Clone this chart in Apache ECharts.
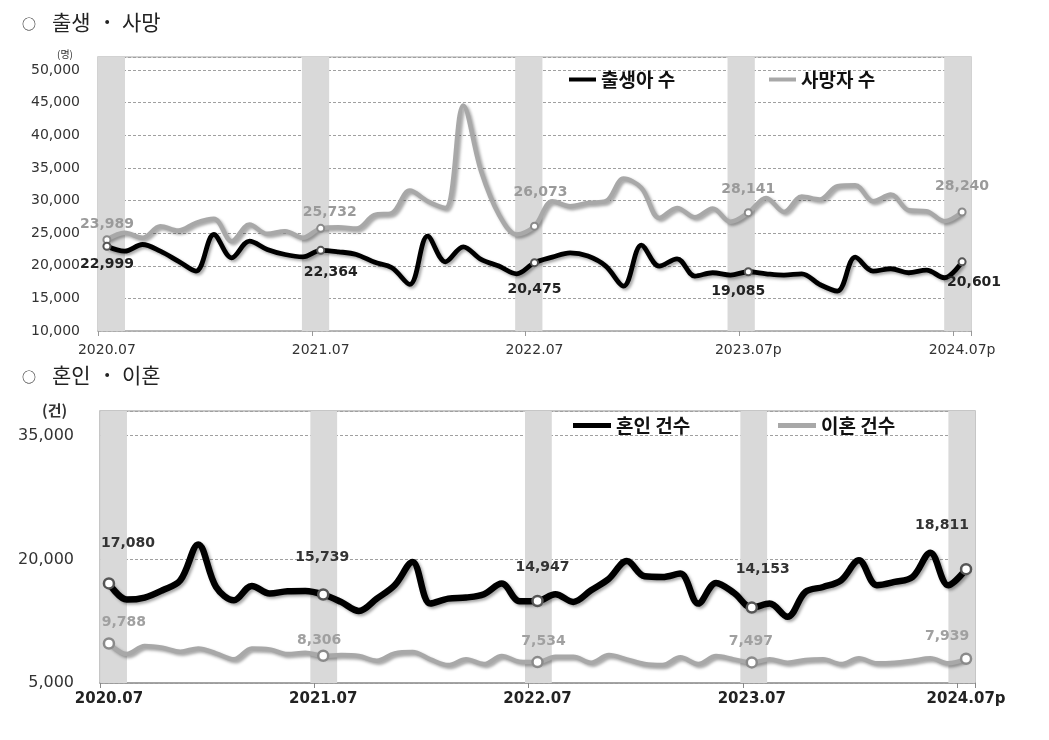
<!DOCTYPE html>
<html>
<head>
<meta charset="utf-8">
<script src="https://cdn.jsdelivr.net/npm/echarts@6/dist/echarts.min.js"></script>
<style>
html,body{margin:0;padding:0;background:#fff;}
#c{width:1049px;height:740px;}
</style>
</head>
<body>
<div id="c"></div>
<script>
// ---------- DATA ----------
const startYear = 2020, startMonth = 7, monthCount = 49;
const birthTickLabels = ['2020.07', '2021.07', '2022.07', '2023.07p', '2024.07p'];
const marriageTickLabels = ['2020.07', '2021.07', '2022.07', '2023.07', '2024.07p'];

const births = [22999, 22240, 23260, 22240, 20710, 19180, 24790, 21220, 23770, 22500, 21730, 21370,
  22364, 22140, 21730, 20560, 19690, 17140, 24540, 20610, 22900, 20970, 19950, 18770,
  20475, 21320, 21990, 21480, 19950, 16890, 23160, 19950, 21070, 18420, 18930, 18570,
  19085, 18770, 18570, 18770, 17140, 16120, 21320, 19180, 19540, 18930, 19340, 18160, 20601];
const deaths = [23989, 25050, 24300, 26070, 25400, 26580, 27190, 23770, 26320, 24900, 25300, 24300,
  25732, 25900, 25700, 27750, 28100, 31520, 29900, 28870, 44580, 34480, 27850, 24790,
  26073, 29890, 29130, 29640, 29890, 33360, 31930, 27340, 28870, 27440, 28770, 26730,
  28141, 30400, 28260, 30610, 30150, 32190, 32340, 29890, 30910, 28510, 28360, 26830, 28240];
const marriages = [17080, 15120, 15370, 16250, 17460, 21810, 16650, 15040, 16780, 15850, 16130, 16170,
  15739, 14840, 13750, 15240, 16860, 19680, 14640, 15240, 15370, 15770, 17060, 14920,
  14947, 15770, 14840, 16250, 17660, 19800, 17940, 17860, 18270, 14640, 17140, 15930,
  14153, 14640, 13030, 16050, 16650, 17460, 19880, 16860, 17260, 17860, 20810, 16860, 18811];
const divorces = [9788, 8510, 9480, 9280, 8800, 9200, 8600, 7870, 9200, 9080, 8510, 8680,
  8306, 8390, 8270, 7710, 8600, 8760, 7870, 7180, 7870, 7300, 8270, 7590,
  7534, 8190, 8190, 7470, 8390, 7870, 7300, 7180, 8110, 7300, 8270, 7870,
  7497, 7870, 7470, 7790, 7870, 7300, 7990, 7390, 7470, 7710, 7990, 7390, 7939];

// ---------- CATEGORIES ----------
const months = [];
for (let k = 0; k < monthCount; k++) {
  const m0 = startMonth - 1 + k;
  const y = startYear + Math.floor(m0 / 12);
  const m = (m0 % 12) + 1;
  months.push(y + '.' + (m < 10 ? '0' + m : m));
}
const julyIdx = months.map((c, i) => c.endsWith('.07') ? i : -1).filter(i => i >= 0);

// ---------- STYLE HELPERS ----------
const fmt = v => Number(v).toLocaleString('en-US');
const CJK = '"Noto Sans CJK KR", "Noto Sans", sans-serif';
const NUM = '"DejaVu Sans", Verdana, sans-serif';

function buildData(values, opts) {
  return values.map((v, i) => {
    const k = julyIdx.indexOf(i);
    if (k < 0) return v;
    return {
      value: v,
      symbol: 'circle',
      symbolSize: opts.symbolSize,
      itemStyle: { color: '#fff', borderColor: opts.markerColor, borderWidth: opts.markerWidth },
      label: {
        show: true,
        position: opts.pos,
        distance: 0,
        offset: opts.offsets[k],
        formatter: p => fmt(p.value),
        color: opts.labelColor,
        fontFamily: NUM,
        fontWeight: 'bold',
        fontSize: 14
      }
    };
  });
}

// shaded July bands: shift (in category widths) per band, width multiplier
function bandRender(shifts, widthMul) {
  return function (params, api) {
    const cx = api.coord([api.value(0), api.value(1)])[0];
    const bw = api.size([1, 0])[0];
    const cs = params.coordSys;
    const shift = shifts[params.dataIndex] || 0;
    const rect = echarts.graphic.clipRectByRect({
      x: cx + shift * bw - widthMul * bw / 2,
      y: cs.y,
      width: widthMul * bw,
      height: cs.height
    }, { x: cs.x, y: cs.y, width: cs.width, height: cs.height });
    if (!rect) return null;
    return { type: 'rect', shape: rect, style: { fill: '#d9d9d9' } };
  };
}
const topBandShift = [0.25, -0.29, -0.32, -0.4, -0.24];
const bottomBandShift = [0.26, 0.03, 0.05, 0.11, -0.24];

const shadow = { shadowColor: 'rgba(0,0,0,0.35)', shadowBlur: 3, shadowOffsetX: 2, shadowOffsetY: 2 };

const chart = echarts.init(document.getElementById('c'));
const option = {
  backgroundColor: '#fff',
  animation: false,
  grid: [
    { left: 98, right: 78, top: 57, height: 274, show: true, borderColor: '#c4c4c4', borderWidth: 1.5, backgroundColor: 'transparent' },
    { left: 100, right: 74, top: 411, height: 272, show: true, borderColor: '#b4b4b4', borderWidth: 1.5, backgroundColor: 'transparent' }
  ],
  xAxis: [
    {
      gridIndex: 0, type: 'category', data: months, boundaryGap: true,
      axisLine: { lineStyle: { color: '#b0b0b0', width: 1.5 } },
      axisTick: { show: true, interval: 11, length: 5, lineStyle: { color: '#999' } },
      axisLabel: {
        interval: 11, margin: 12, color: '#333', fontFamily: NUM, fontSize: 14,
        formatter: (v, i) => birthTickLabels[Math.round(i / 12)] || ''
      }
    },
    {
      gridIndex: 1, type: 'category', data: months, boundaryGap: true,
      axisLine: { lineStyle: { color: '#999', width: 1.5 } },
      axisTick: { show: true, interval: 11, length: 5, lineStyle: { color: '#888' } },
      axisLabel: {
        interval: 11, margin: 9, color: '#222', fontFamily: NUM, fontSize: 15, fontWeight: 'bold',
        formatter: (v, i) => marriageTickLabels[Math.round(i / 12)] || ''
      }
    }
  ],
  yAxis: [
    {
      gridIndex: 0, type: 'value', min: 10000, max: 52000, interval: 5000,
      axisLine: { show: false }, axisTick: { show: false },
      axisLabel: { showMaxLabel: false, margin: 18, color: '#333', fontFamily: NUM, fontSize: 14, formatter: fmt },
      splitLine: { lineStyle: { color: '#a0a0a0', type: [3, 2], width: 1 } }
    },
    {
      gridIndex: 1, type: 'value', min: 5000, max: 38000, interval: 15000,
      axisLine: { show: false }, axisTick: { show: false },
      axisLabel: { showMaxLabel: false, margin: 26, color: '#333', fontFamily: NUM, fontSize: 16, formatter: fmt },
      splitLine: { lineStyle: { color: '#a0a0a0', type: [3, 2], width: 1 } }
    }
  ],
  legend: [
    { left: 564, top: 65, data: ['출생아 수'], icon: 'rect', itemWidth: 27, itemHeight: 4,
      textStyle: { fontFamily: CJK, fontWeight: 'bold', fontSize: 19, color: '#111' } },
    { left: 764, top: 65, data: ['사망자 수'], icon: 'rect', itemWidth: 27, itemHeight: 4,
      textStyle: { fontFamily: CJK, fontWeight: 'bold', fontSize: 19, color: '#111' } },
    { left: 568, top: 411, data: ['혼인 건수'], icon: 'rect', itemWidth: 38, itemHeight: 5,
      textStyle: { fontFamily: CJK, fontWeight: 'bold', fontSize: 19, color: '#111' } },
    { left: 773, top: 411, data: ['이혼 건수'], icon: 'rect', itemWidth: 38, itemHeight: 5,
      textStyle: { fontFamily: CJK, fontWeight: 'bold', fontSize: 19, color: '#111' } }
  ],
  series: [
    { type: 'custom', name: 'band1', xAxisIndex: 0, yAxisIndex: 0, silent: true, z: 1,
      renderItem: bandRender(topBandShift, 1.53), data: julyIdx.map(i => [i, 10000]) },
    { type: 'custom', name: 'band2', xAxisIndex: 1, yAxisIndex: 1, silent: true, z: 1,
      renderItem: bandRender(bottomBandShift, 1.5), data: julyIdx.map(i => [i, 5000]) },
    {
      name: '사망자 수', type: 'line', xAxisIndex: 0, yAxisIndex: 0, smooth: 0.35, z: 3,
      symbol: 'none', showSymbol: true, color: '#a8a8a8',
      lineStyle: Object.assign({ width: 4.5, color: '#a8a8a8' }, shadow),
      data: buildData(deaths, { symbolSize: 7, markerColor: '#8a8a8a', markerWidth: 2, pos: 'top',
        labelColor: '#9a9a9a', offsets: [[0, -4], [9, -5], [6, -22], [0, -12], [0, -14]] })
    },
    {
      name: '출생아 수', type: 'line', xAxisIndex: 0, yAxisIndex: 0, smooth: 0.35, z: 4,
      symbol: 'none', showSymbol: true, color: '#000',
      lineStyle: Object.assign({ width: 4.8, color: '#000' }, shadow),
      data: buildData(births, { symbolSize: 7, markerColor: '#555', markerWidth: 2, pos: 'bottom',
        labelColor: '#222', offsets: [[0, 7], [10, 11], [0, 15], [-10, 8], [12, 9]] })
    },
    {
      name: '혼인 건수', type: 'line', xAxisIndex: 1, yAxisIndex: 1, smooth: 0.35, z: 4,
      symbol: 'none', showSymbol: true, color: '#000',
      lineStyle: Object.assign({ width: 6.5, color: '#000' }, shadow),
      data: buildData(marriages, { symbolSize: 10, markerColor: '#555', markerWidth: 2.5, pos: 'top',
        labelColor: '#333', offsets: [[19, -27], [-1, -24], [5, -20], [11, -25], [-24, -31]] })
    },
    {
      name: '이혼 건수', type: 'line', xAxisIndex: 1, yAxisIndex: 1, smooth: 0.35, z: 3,
      symbol: 'none', showSymbol: true, color: '#a8a8a8',
      lineStyle: Object.assign({ width: 4.5, color: '#a8a8a8' }, shadow),
      data: buildData(divorces, { symbolSize: 10, markerColor: '#8a8a8a', markerWidth: 2.5, pos: 'top',
        labelColor: '#a0a0a0', offsets: [[15, -8], [-4, -2], [6, -8], [-1, -8], [-19, -9]] })
    }
  ],
  graphic: [
    { type: 'text', left: 22, top: 17, style: { text: '○', font: '14px ' + CJK, fill: '#222' } },
    { type: 'text', left: 52, top: 12, style: { text: '출생', font: '21px ' + CJK, fill: '#222' } },
    { type: 'text', left: 101, top: 12, style: { text: '·', font: 'bold 21px ' + CJK, fill: '#222' } },
    { type: 'text', left: 122, top: 12, style: { text: '사망', font: '21px ' + CJK, fill: '#222' } },
    { type: 'text', left: 22, top: 370, style: { text: '○', font: '14px ' + CJK, fill: '#222' } },
    { type: 'text', left: 52, top: 365, style: { text: '혼인', font: '21px ' + CJK, fill: '#222' } },
    { type: 'text', left: 101, top: 365, style: { text: '·', font: 'bold 21px ' + CJK, fill: '#222' } },
    { type: 'text', left: 122, top: 365, style: { text: '이혼', font: '21px ' + CJK, fill: '#222' } },
    { type: 'text', left: 57, top: 49, style: { text: '(명)', font: '10px ' + CJK, fill: '#333' } },
    { type: 'text', left: 42, top: 403, style: { text: '(건)', font: 'bold 15px ' + CJK, fill: '#333' } }
  ]
};
chart.setOption(option);
</script>
</body>
</html>
